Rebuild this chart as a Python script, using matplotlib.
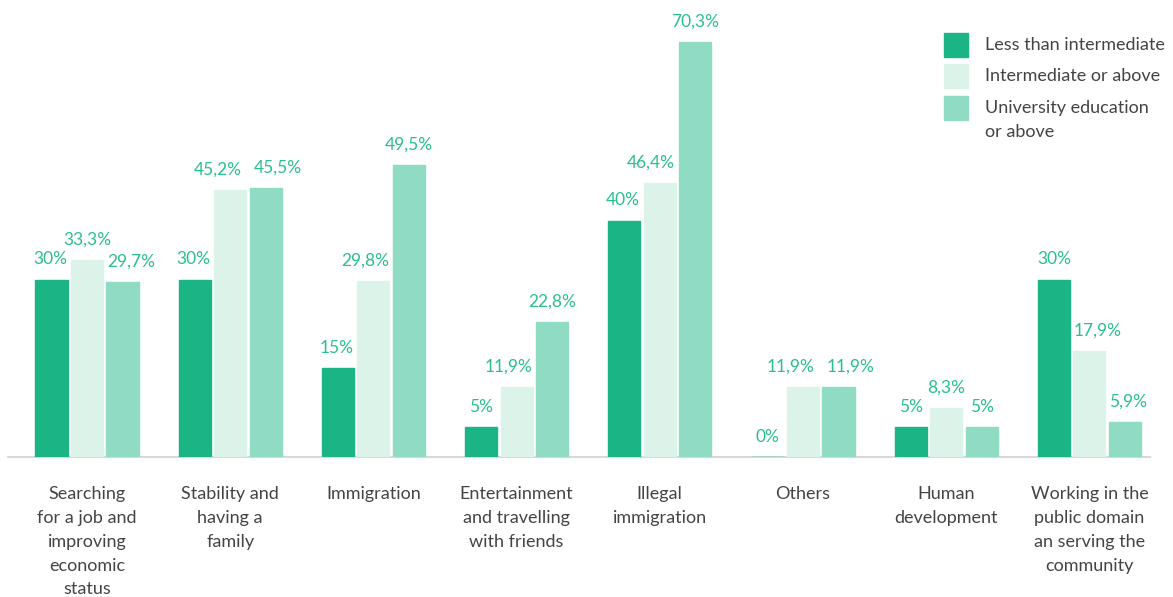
import numpy as np
import matplotlib.pyplot as plt
from matplotlib.patches import Rectangle

categories = [
    "Searching\nfor a job and\nimproving\neconomic\nstatus",
    "Stability and\nhaving a\nfamily",
    "Immigration",
    "Entertainment\nand travelling\nwith friends",
    "Illegal\nimmigration",
    "Others",
    "Human\ndevelopment",
    "Working in the\npublic domain\nan serving the\ncommunity",
]
series_names = ["Less than intermediate", "Intermediate or above",
                "University education", "or above"]
less_than_intermediate = [30, 30, 15, 5, 40, 0, 5, 30]
intermediate_or_above = [33.3, 45.2, 29.8, 11.9, 46.4, 11.9, 8.3, 17.9]
university_or_above = [29.7, 45.5, 49.5, 22.8, 70.3, 11.9, 5, 5.9]

colors = ["#1bb585", "#dcf3ea", "#8fdbc4"]
label_color = "#2bbf8e"
text_color = "#444444"

plt.rcParams["font.family"] = ["Lato", "DejaVu Sans"]

W, H = 1173, 597
fig = plt.figure(figsize=(W / 100, H / 100), dpi=100)

# axes placed in pixel terms: baseline at y=457, ~5.9 px per percent
left_px, right_px, base_px = 8, 1150, 457
ytop = 75
px_per_unit = 415 / 70.3
ax_h = ytop * px_per_unit
ax = fig.add_axes([left_px / W, (H - base_px) / H,
                   (right_px - left_px) / W, ax_h / H])

x = np.arange(len(categories))
width = 0.224
offset = 0.248


def fmt(v):
    if float(v).is_integer():
        return f"{int(v)}%"
    return f"{v:.1f}".replace(".", ",") + "%"


bars = []
labels = []
for i, vals in enumerate([less_than_intermediate, intermediate_or_above,
                          university_or_above]):
    pos = x + (i - 1) * offset
    bc = ax.bar(pos, vals, width, color=colors[i], edgecolor=colors[i],
                linewidth=1, zorder=3)
    bars.append(list(bc))
    row = []
    for p, v in zip(pos, vals):
        row.append(ax.annotate(fmt(v), (p, v), xytext=(0, 9),
                               textcoords="offset points", ha="center",
                               va="bottom", fontsize=12.5, color=label_color,
                               annotation_clip=False))
    labels.append(row)

ax.set_xlim((left_px - 87) / 143.2, (right_px - 87) / 143.2)
ax.set_ylim(0, ytop)
for s in ["top", "left", "right"]:
    ax.spines[s].set_visible(False)
ax.spines["bottom"].set_color("#d9d9d9")
ax.spines["bottom"].set_linewidth(1.5)
ax.set_yticks([])
ax.set_xticks(x)
ax.set_xticklabels(categories, fontsize=13, color=text_color,
                   linespacing=1.6, va="top")
ax.tick_params(axis="x", length=0, pad=21)

# nudge value labels sideways so they clear neighbouring bars and labels
fig.canvas.draw()
r = fig.canvas.get_renderer()
pt = 72 / fig.dpi
for g in range(len(categories)):
    shift = [0.0, 0.0, 0.0]
    bb = [labels[s][g].get_window_extent(r) for s in range(3)]
    rects = [bars[s][g].get_window_extent(r) for s in range(3)]
    # labels pushed away from a taller neighbouring bar
    for s in range(3):
        for k in (s - 1, s + 1):
            if 0 <= k < 3 and bb[s].y0 < rects[k].y1:
                if k < s:
                    need = rects[k].x1 + 4 - bb[s].x0
                    shift[s] = max(shift[s], need)
                else:
                    need = bb[s].x1 - (rects[k].x0 - 4)
                    shift[s] = min(shift[s], -need)
    # labels at the same height spread apart
    for s in range(2):
        a, b = bb[s], bb[s + 1]
        if abs(a.y0 - b.y0) < a.height:
            gap = (b.x0 + shift[s + 1]) - (a.x1 + shift[s])
            if gap < 12:
                d = (12 - gap) / 2
                shift[s] -= d
                shift[s + 1] += d
    for s in range(3):
        if shift[s]:
            labels[s][g].set_position((shift[s] * pt, 9))

# legend drawn by hand in pixel coordinates
for c, yc in zip(colors, [45, 76, 108]):
    fig.patches.append(Rectangle((944 / W, (H - yc - 12) / H), 24 / W, 24 / H,
                                 transform=fig.transFigure, color=c))
for name, yc in zip(series_names, [45, 76, 108, 132]):
    fig.text(985 / W, (H - yc) / H, name, fontsize=13, color=text_color,
             va="center")

fig.savefig("out.png", dpi=100)
